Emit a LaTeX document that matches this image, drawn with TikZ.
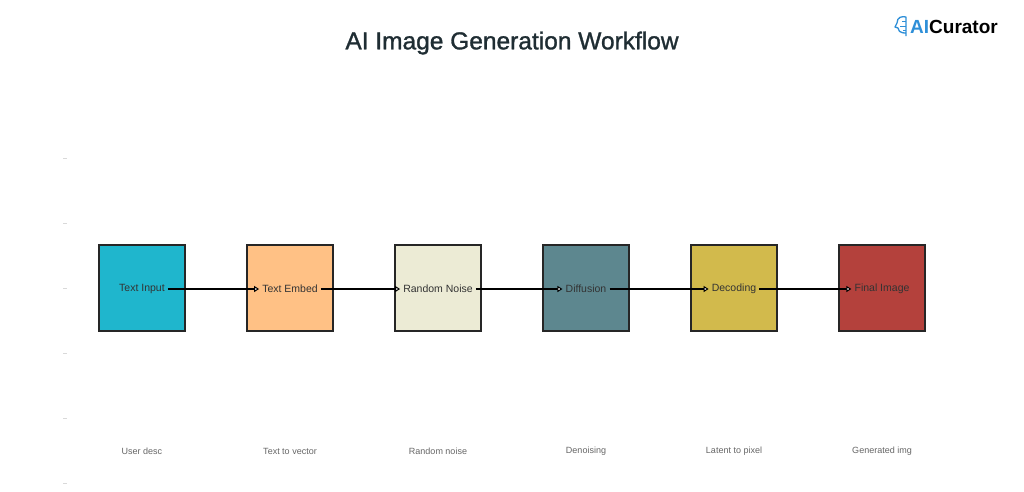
\documentclass[tikz,border=0pt]{standalone}
\usepackage{fontspec}
\setmainfont{Liberation Sans}
\newfontfamily\titlefont[FakeBold=1.2]{Liberation Sans}
\usepackage{xcolor}
\usetikzlibrary{arrows.meta}

\definecolor{inputcol}{HTML}{1FB6CD}
\definecolor{embedcol}{HTML}{FFC185}
\definecolor{noisecol}{HTML}{ECEBD5}
\definecolor{diffcol}{HTML}{5D878F}
\definecolor{decodecol}{HTML}{D2BA4C}
\definecolor{finalcol}{HTML}{B4413C}
\definecolor{titlecol}{HTML}{1F2D33}
\definecolor{logoblue}{HTML}{2E8FD8}

\begin{document}
\begin{tikzpicture}[x=1pt,y=-1pt,
    stage/.style={draw=black!85,line width=1.4pt,minimum width=86pt,minimum height=86pt,inner sep=0pt},
    stagetxt/.style={font=\fontsize{10.5}{12}\selectfont,text=black!80,inner sep=3pt},
    note/.style={font=\fontsize{9}{11}\selectfont,text=black!60},
    flow/.style={-{Triangle[open,length=5pt,width=6pt,line width=1pt,fill=white]},line width=2pt}]
    \useasboundingbox[fill=white] (0,0) rectangle (1024,491);
    % faint axis ticks
    \foreach \ty in {158,223,288,353,418,483}
      \draw[black!15,line width=.6pt] (63,\ty) -- (67,\ty);
    % title and logo
    \node[font=\titlefont\fontsize{24.5}{28}\selectfont,text=titlecol] (title) at (512,43) {AI Image Generation Workflow};
    \node[font=\bfseries\fontsize{19}{22}\selectfont,anchor=west,inner sep=0pt] (logo) at (910,27) {\textcolor{logoblue}{AI}Curator};
    \draw[logoblue,line width=1.3pt,line join=round] (906,36) -- (906,33) .. controls (899,33) and (898,30) .. (898,28)
      -- (895,27) -- (897,23) .. controls (897,17) and (902,16) .. (906,17) -- (906,36);
    \draw[logoblue,line width=1pt] (902,21) -- (906,21) (900,26) -- (906,26) (903,30) -- (906,30);
    % stages
    \node[stage,fill=inputcol] (inputbox) at (142,288) {};
    \node[stage,fill=embedcol] (embedbox) at (290,288) {};
    \node[stage,fill=noisecol] (noisebox) at (438,288) {};
    \node[stage,fill=diffcol] (diffbox) at (586,288) {};
    \node[stage,fill=decodecol] (decodebox) at (734,288) {};
    \node[stage,fill=finalcol] (finalbox) at (882,288) {};
    \node[stagetxt] (input) at (142,289) {Text Input};
    \node[stagetxt] (embed) at (290,289) {Text Embed};
    \node[stagetxt] (noise) at (438,289) {Random Noise};
    \node[stagetxt] (diff) at (586,289) {Diffusion};
    \node[stagetxt] (decode) at (734,289) {Decoding};
    \node[stagetxt] (final) at (882,289) {Final Image};
    % connectors
    \draw[flow] (input.east) -- (embed.west);
    \draw[flow] (embed.east) -- (noise.west);
    \draw[flow] (noise.east) -- (diff.west);
    \draw[flow] (diff.east) -- (decode.west);
    \draw[flow] (decode.east) -- (final.west);
    % notes under the stages
    \node[note] (inputnote) at (142,451) {User desc};
    \node[note] (embednote) at (290,451) {Text to vector};
    \node[note] (noisenote) at (438,451) {Random noise};
    \node[note] (diffnote) at (586,451) {Denoising};
    \node[note] (decodenote) at (734,451) {Latent to pixel};
    \node[note] (finalnote) at (882,451) {Generated img};
  \end{tikzpicture}
\end{document}
